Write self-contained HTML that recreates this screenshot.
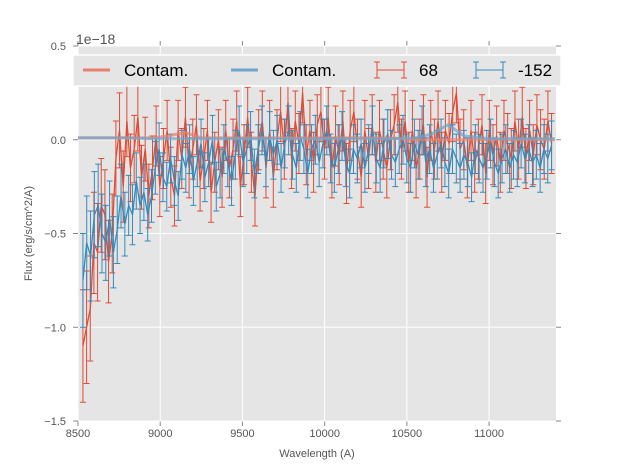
<!DOCTYPE html>
<html><head><meta charset="utf-8"><style>
body{margin:0;background:#fff}
svg{display:block;font-family:"Liberation Sans",sans-serif}
</style></head><body>
<svg id="chart" width="617" height="467" viewBox="0 0 617 467" xmlns="http://www.w3.org/2000/svg"></svg>
<script>
const xTicks=[8500,9000,9500,10000,10500,11000];
const yTicks=[0.5,0,-0.5,-1.0,-1.5];
const yTickLabels=["0.5","0.0","\u22120.5","\u22121.0","\u22121.5"];
const redFlux=[-1.1,-1.0,-0.9,-0.55,-0.6,-0.35,-0.4,-0.65,-0.5,-0.1,0.05,-0.25,0.1,-0.15,-0.05,0.12,-0.2,-0.05,-0.3,-0.15,0.02,-0.25,-0.1,0.05,-0.2,-0.3,0.05,-0.1,0.12,-0.15,-0.05,0.08,-0.22,-0.1,0.05,-0.28,-0.12,0.0,-0.2,0.05,-0.15,-0.05,0.1,-0.25,-0.08,0.12,-0.12,-0.3,0.0,0.1,-0.15,0.05,-0.2,0.0,0.15,-0.05,0.2,-0.1,0.1,-0.02,0.25,-0.08,0.05,-0.12,0.08,0.15,-0.05,0.12,-0.15,0.02,-0.08,0.1,-0.18,0.05,0.15,-0.05,-0.2,0.05,-0.1,0.08,-0.12,0.05,-0.05,-0.15,0.0,0.08,0.2,-0.05,0.1,-0.12,0.05,-0.15,-0.05,0.08,-0.2,0.05,-0.05,0.1,-0.12,0.05,-0.02,0.15,0.25,-0.05,0.0,-0.15,0.05,-0.12,-0.05,0.08,-0.18,0.05,-0.08,0.02,-0.12,0.05,-0.02,-0.1,0.1,-0.05,0.12,-0.1,0.05,-0.08,0.08,0.0,-0.05,0.1,-0.02];
const redErr=[0.3,0.3,0.28,0.27,0.26,0.25,0.24,0.22,0.21,0.2,0.2,0.19,0.19,0.18,0.18,0.18,0.17,0.17,0.17,0.17,0.16,0.16,0.16,0.16,0.16,0.16,0.16];
const blueFlux=[-0.75,-0.55,-0.62,-0.4,-0.35,-0.5,-0.55,-0.42,-0.6,-0.48,-0.3,-0.45,-0.35,-0.4,-0.22,-0.35,-0.28,-0.4,-0.3,-0.15,-0.05,-0.2,-0.25,-0.1,-0.22,-0.3,-0.08,-0.15,-0.05,-0.22,-0.12,-0.02,-0.2,-0.12,0.0,-0.25,-0.18,-0.05,-0.12,-0.22,-0.08,0.05,-0.12,-0.05,0.02,-0.18,-0.05,0.05,-0.12,0.02,-0.08,0.0,-0.15,-0.02,0.05,-0.08,-0.15,0.02,-0.05,-0.18,-0.05,0.0,-0.12,-0.02,0.05,-0.1,-0.15,-0.05,0.02,-0.12,-0.18,-0.05,-0.1,-0.02,-0.15,-0.05,0.05,-0.1,-0.15,-0.02,0.03,-0.08,-0.12,-0.05,0.0,-0.1,-0.15,-0.02,-0.08,0.05,-0.12,-0.05,-0.15,-0.08,-0.02,-0.12,-0.18,-0.05,-0.1,-0.15,-0.08,-0.12,-0.2,-0.05,-0.1,-0.15,-0.08,-0.02,-0.12,-0.18,-0.1,-0.05,-0.15,-0.08,-0.12,-0.02,-0.1,-0.05,-0.12,-0.08,-0.15,-0.05,-0.1,-0.03];
const blueErr=[0.25,0.25,0.24,0.23,0.22,0.21,0.2,0.2,0.19,0.18,0.17,0.17,0.16,0.16,0.15,0.15,0.15,0.14,0.14,0.14,0.14,0.13,0.13,0.13,0.13,0.13,0.13,0.13];
const contamWave=[8500,8650,8800,8950,9050,9150,9250,9400,9600,9800,10000,10200,10400,10550,10650,10750,10850,11000,11200,11400];
const contamRed=[0.01,0.01,0.01,0.01,0.02,0.04,0.01,0.01,0.01,0.01,0.01,0.01,0.01,0.0,0.0,0.0,0.0,0.0,0.0,0.0];
const contamBlue=[0.01,0.01,0.01,0.005,0.005,0.005,0.005,0.005,0.005,0.005,0.005,0.005,0.005,0.01,0.03,0.08,0.02,0.005,0.005,0.005];
const waveStart=8530, waveEnd=11380;

const L=78,R=556,T=46,B=421;
const X=v=>L+(v-8500)/(11407-8500)*(R-L);
const Y=v=>T+(0.5-v)/2.0*(B-T);
const svg=document.getElementById('chart');
const NS='http://www.w3.org/2000/svg';
function mk(tag,attrs,parent){const e=document.createElementNS(NS,tag);for(const k in attrs)e.setAttribute(k,attrs[k]);(parent||svg).appendChild(e);return e;}

const bg=mk('rect',{x:L,y:T,width:R-L,height:B-T,fill:'#e5e5e5'});


xTicks.forEach(v=>{
  const g=mk('line',{x1:X(v),x2:X(v),y1:T,y2:B,stroke:'#fff','stroke-width':1});
  
  
  mk('line',{x1:X(v),x2:X(v),y1:B,y2:B+5,stroke:'#888'});
  mk('line',{x1:X(v),x2:X(v),y1:T,y2:T-5,stroke:'#888'});
  const t=mk('text',{x:X(v),y:B+16,'font-size':11,fill:'#555','text-anchor':'middle'});
  t.textContent=v;
  
  
});
yTicks.forEach((v,i)=>{
  const g=mk('line',{x1:L,x2:R,y1:Y(v),y2:Y(v),stroke:'#fff','stroke-width':1});
  
  
  mk('line',{x1:L-5,x2:L,y1:Y(v),y2:Y(v),stroke:'#888'});
  mk('line',{x1:R,x2:R+5,y1:Y(v),y2:Y(v),stroke:'#888'});
  const t=mk('text',{x:L-12,y:Y(v)+4,'font-size':11,fill:'#555','text-anchor':'end'});
  t.textContent=yTickLabels[i];
  
  
});

function series(flux,err,color,name){
  const g=mk('g',{});
  
  
  const step=(waveEnd-waveStart)/(flux.length-1);
  let d='';
  flux.forEach((f,i)=>{
    const e=err[Math.min(i,err.length-1)];
    const x=X(waveStart+i*step);
    const y1=Y(f+e),y2=Y(f-e);
    mk('line',{x1:x,x2:x,y1:y1,y2:y2,stroke:color,'stroke-width':1},g);
    mk('line',{x1:x-3,x2:x+3,y1:y1,y2:y1,stroke:color,'stroke-width':1},g);
    mk('line',{x1:x-3,x2:x+3,y1:y2,y2:y2,stroke:color,'stroke-width':1},g);
    d+=(i?'L':'M')+x.toFixed(1)+' '+Y(f).toFixed(1);
  });
  mk('path',{d:d,fill:'none',stroke:color,'stroke-width':1.3},g);
}
function contam(vals,color,name){
  const d=vals.map((v,i)=>(i?'L':'M')+X(contamWave[i]).toFixed(1)+' '+Y(v).toFixed(1)).join('');
  const p=mk('path',{d:d,fill:'none',stroke:color,'stroke-width':3,opacity:0.7});
  
  
}
series(redFlux,redErr,'#e24a33','series-68');
series(blueFlux,blueErr,'#348abd','series-neg152');
contam(contamRed,'#e8806e','contam-red-line');
contam(contamBlue,'#6ea6cc','contam-blue-line');

const lg=mk('g',{});


mk('rect',{x:73,y:55,width:488,height:31,fill:'#e5e5e5',stroke:'#fff','stroke-width':1.5},lg);
mk('line',{x1:83,x2:110,y1:70,y2:70,stroke:'#e8806e','stroke-width':3},lg);
mk('line',{x1:231,x2:258,y1:70,y2:70,stroke:'#6ea6cc','stroke-width':3},lg);
function ebIcon(x,c){mk('line',{x1:x,x2:x+27,y1:70,y2:70,stroke:c},lg);mk('line',{x1:x,x2:x,y1:62,y2:78,stroke:c},lg);mk('line',{x1:x+27,x2:x+27,y1:62,y2:78,stroke:c},lg);mk('line',{x1:x-3,x2:x+3,y1:62,y2:62,stroke:c},lg);mk('line',{x1:x-3,x2:x+3,y1:78,y2:78,stroke:c},lg);mk('line',{x1:x+24,x2:x+30,y1:62,y2:62,stroke:c},lg);mk('line',{x1:x+24,x2:x+30,y1:78,y2:78,stroke:c},lg);}
ebIcon(377,'#e24a33');ebIcon(476,'#348abd');
[['Contam.',124],['Contam.',272],['68',419],['-152',518]].forEach(a=>{
  const t=mk('text',{x:a[1],y:76,'font-size':17,fill:'#000'},lg);
  t.textContent=a[0];
  
  
});

const off=mk('text',{x:76,y:44,'font-size':14,fill:'#555'});
off.textContent='1e\u221218';


const xl=mk('text',{x:(L+R)/2,y:457,'font-size':11,fill:'#555','text-anchor':'middle'});
xl.textContent='Wavelength (A)';


const yl=mk('text',{x:0,y:0,'font-size':11,fill:'#555','text-anchor':'middle',transform:'translate(32,'+((T+B)/2)+') rotate(-90)'});
yl.textContent='Flux (erg/s/cm^2/A)';


</script>
</body></html>
